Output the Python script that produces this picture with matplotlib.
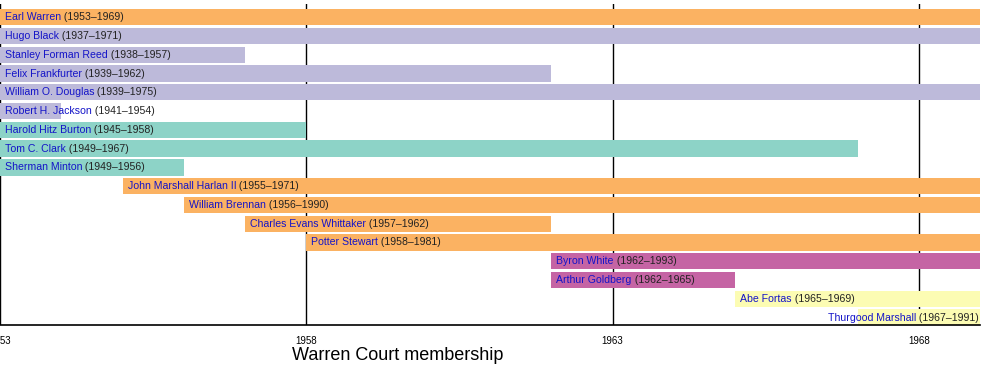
import matplotlib
matplotlib.use("Agg")
import matplotlib.pyplot as plt
from matplotlib import font_manager

names = ["Earl Warren", "Hugo Black", "Stanley Forman Reed", "Felix Frankfurter",
         "William O. Douglas", "Robert H. Jackson", "Harold Hitz Burton", "Tom C. Clark",
         "Sherman Minton", "John Marshall Harlan II", "William Brennan",
         "Charles Evans Whittaker", "Potter Stewart", "Byron White", "Arthur Goldberg",
         "Abe Fortas", "Thurgood Marshall"]
terms = ["(1953–1969)", "(1937–1971)", "(1938–1957)", "(1939–1962)", "(1939–1975)",
         "(1941–1954)", "(1945–1958)", "(1949–1967)", "(1949–1956)", "(1955–1971)",
         "(1956–1990)", "(1957–1962)", "(1958–1981)", "(1962–1993)", "(1962–1965)",
         "(1965–1969)", "(1967–1991)"]
bar_start = [1953, 1953, 1953, 1953, 1953, 1953, 1953, 1953, 1953, 1955, 1956, 1957,
             1958, 1962, 1962, 1965, 1967]
bar_end = [1969, 1971, 1957, 1962, 1975, 1954, 1958, 1967, 1956, 1971, 1990, 1962,
           1981, 1993, 1965, 1969, 1991]
appointer = ["Eisenhower", "Roosevelt", "Roosevelt", "Roosevelt", "Roosevelt", "Roosevelt",
             "Truman", "Truman", "Truman", "Eisenhower", "Eisenhower", "Eisenhower",
             "Eisenhower", "Kennedy", "Kennedy", "Johnson", "Johnson"]
tick_years = [1953, 1958, 1963, 1968]
xlabel = "Warren Court membership"

palette = {"Eisenhower": "#FBB262", "Roosevelt": "#BDBADA", "Truman": "#8DD3C7",
           "Kennedy": "#C564A4", "Johnson": "#FCFCB3"}

plt.rcParams["font.family"] = ["Liberation Sans", "DejaVu Sans"]
available = {f.name for f in font_manager.fontManager.ttflist}
label_family = ["Liberation Sans Narrow", "Liberation Sans", "DejaVu Sans"] \
    if "Liberation Sans Narrow" in available else ["Liberation Sans", "DejaVu Sans"]
label_size = 8.8 if "Liberation Sans Narrow" in available else 7.6

W, H = 1000, 375
fig = plt.figure(figsize=(W / 100, H / 100), dpi=100)
ax = fig.add_axes([0, 50 / H, 980 / W, 321 / H])

pitch = 18.77
c0 = 17.2
ax.set_ylim((325 - c0) / pitch, (4 - c0) / pitch)
ax.set_xlim(1953, 1969)

ys = list(range(len(names)))
ax.barh(ys, [e - s for s, e in zip(bar_start, bar_end)], left=bar_start,
        height=0.87, color=[palette[a] for a in appointer], zorder=2)

ax.set_xticks(tick_years)
ax.set_xticklabels([str(t) for t in tick_years], fontsize=7)
ax.tick_params(axis="x", length=0, pad=8)
ax.set_yticks([])
ax.grid(axis="x", color="black", linewidth=1, zorder=1)
ax.set_axisbelow(True)
for s in ["top", "right", "left"]:
    ax.spines[s].set_visible(False)
ax.spines["bottom"].set_linewidth(1.2)
ax.spines["bottom"].set_zorder(3)

fig.canvas.draw()
renderer = fig.canvas.get_renderer()
inv = ax.transData.inverted()
ax_right_px = ax.transAxes.transform((1, 0))[0]
for i, (n, t, s) in enumerate(zip(names, terms, bar_start)):
    x0px = ax.transData.transform((s, i))[0] + 5
    t1 = ax.text(0, i, n, color="#1414C8", fontsize=label_size, family=label_family,
                 va="center", ha="left", zorder=4)
    t1.set_x(inv.transform((x0px, 0))[0])
    bb1 = t1.get_window_extent(renderer)
    t2 = ax.text(0, i, " " + t, color="#222222", fontsize=label_size, family=label_family,
                 va="center", ha="left", zorder=4)
    t2.set_x(inv.transform((bb1.x1, 0))[0])
    bb2 = t2.get_window_extent(renderer)
    if bb2.x1 > ax_right_px - 1:
        shift = bb2.x1 - (ax_right_px - 1)
        t1.set_x(inv.transform((bb1.x0 - shift, 0))[0])
        t2.set_x(inv.transform((bb1.x1 - shift, 0))[0])

fig.text(398 / W, 1 - 356 / H, xlabel, fontsize=13, ha="center", va="center")

fig.savefig("out.png", dpi=100)
